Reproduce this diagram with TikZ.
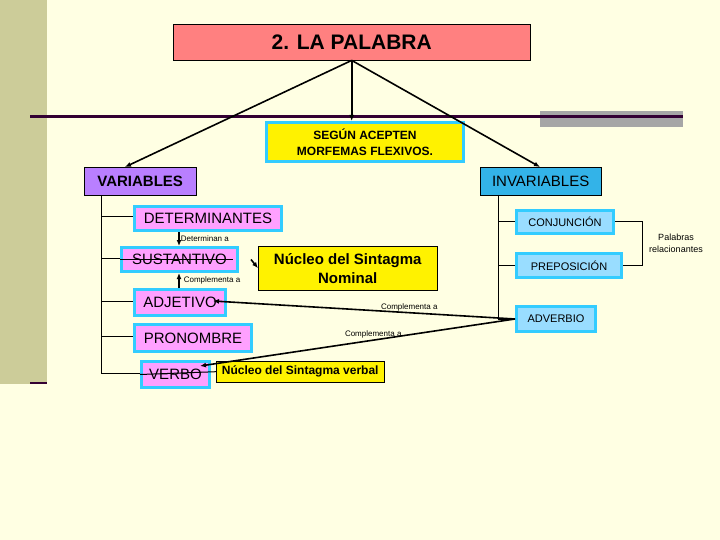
\documentclass[tikz,border=0pt]{standalone}
\usepackage{fontspec}
\setmainfont{Liberation Sans}
\usetikzlibrary{positioning,arrows.meta}
\definecolor{crema}{HTML}{FFFFE3}
\definecolor{oliva}{HTML}{CCCC99}
\definecolor{rosa}{HTML}{FF8080}
\definecolor{lila}{HTML}{B97FFF}
\definecolor{celeste}{HTML}{33B3E8}
\definecolor{claro}{HTML}{99DDFF}
\definecolor{magenta}{HTML}{FFA0FF}
\definecolor{borde}{HTML}{33CCFF}
\definecolor{barra}{HTML}{330033}
\tikzset{
  caja/.style={draw=borde, line width=3pt, fill=magenta, inner sep=0pt, anchor=north west},
  cajader/.style={draw=borde, line width=3pt, fill=claro, inner sep=0pt, anchor=north west},
  nucleo/.style={draw=black, thin, fill=yellow, inner sep=0pt, anchor=north west, align=center, font=\bfseries},
  flecha/.style={-{Latex[length=6pt,width=5pt]}, line width=1.6pt},
  etiqueta/.style={font=\fontsize{8}{9}\selectfont, inner sep=1pt},
  rama/.style={line width=1pt}
}
\begin{document}
\begin{tikzpicture}[x=1pt, y=-1pt]
  % --- fondo ---
  \fill[crema] (0,0) rectangle (720,540);
  \useasboundingbox (0,0) rectangle (720,540);
  \fill[oliva] (0,0) rectangle (47,384);
  \draw[barra, line width=2pt] (30,383) -- (47,383);
  \fill[gray!70] (540,111) rectangle (683,127);
  \draw[barra, line width=3pt] (30,117) -- (683,117);

  % --- nodos principales ---
  \node[draw=black, thin, fill=rosa, minimum width=357pt, minimum height=36pt, anchor=north west,
        font=\bfseries\fontsize{21}{24}\selectfont] (palabra) at (173,24) {2. LA PALABRA};
  \node[draw=borde, line width=3pt, fill=yellow, minimum width=197pt, minimum height=39pt, anchor=north west,
        align=center, font=\bfseries\fontsize{12}{16}\selectfont] (segun) at (265,121) {SEGÚN ACEPTEN\\MORFEMAS FLEXIVOS.};
  \node[draw=black, thin, fill=lila, minimum width=112pt, minimum height=28pt, anchor=north west,
        font=\bfseries\fontsize{15}{18}\selectfont] (var) at (84,167) {VARIABLES};
  \node[draw=black, thin, fill=celeste, minimum width=121pt, minimum height=28pt, anchor=north west,
        font=\fontsize{15}{18}\selectfont] (invar) at (480,167) {INVARIABLES};

  \draw[flecha] (palabra.south) -- (125,167);
  \draw[flecha] (palabra.south) -- (palabra.south |- segun.north);
  \draw[flecha] (palabra.south) -- (540,167);

  % --- variables ---
  \begin{scope}[font=\fontsize{15}{18}\selectfont]
    \node[caja, minimum width=147pt, minimum height=24pt] (det) at (133,205) {DETERMINANTES};
    \node[caja, minimum width=116pt, minimum height=24pt] (sust) at (120,246) {SUSTANTIVO};
    \node[caja, minimum width=91pt, minimum height=26pt] (adj) at (133,288) {ADJETIVO};
    \node[caja, minimum width=117pt, minimum height=27pt] (pron) at (133,323) {PRONOMBRE};
    \node[caja, minimum width=68pt, minimum height=26pt] (verbo) at (140,360) {VERBO};
  \end{scope}
  \node[nucleo, minimum width=179pt, minimum height=44pt, font=\bfseries\fontsize{15}{19}\selectfont]
    (nsn) at (258,246) {Núcleo del Sintagma\\Nominal};
  \node[nucleo, minimum width=168pt, minimum height=21pt, font=\bfseries\fontsize{12}{14}\selectfont]
    (nsv) at (216,361) {Núcleo del Sintagma verbal};

  \draw[rama] (101,195) -- (101,373);
  \foreach \n/\y in {det/217, sust/258, adj/301, pron/336, verbo/373}
    \draw[rama] (101,\y) -- (\n.west |- 0,\y);
  \draw[rama] (sust.west) -- ++(113,0);
  \draw[rama] (verbo.west) -- (nsv.west);
  \draw[flecha] (sust.east) ++(12,0) -- (nsn.west);

  \draw[flecha] (det.south -| 179,0) -- node[etiqueta, right] {Determinan a} (sust.north -| 179,0);
  \draw[flecha] (adj.north -| 179,0) -- node[etiqueta, right, xshift=3pt] {Complementa a} (sust.south -| 179,0);

  % --- invariables ---
  \begin{scope}[font=\fontsize{11}{13}\selectfont]
    \node[cajader, minimum width=97pt, minimum height=23pt] (conj) at (515,209) {CONJUNCIÓN};
    \node[cajader, minimum width=105pt, minimum height=24pt] (prep) at (515,252) {PREPOSICIÓN};
    \node[cajader, minimum width=79pt, minimum height=25pt] (adv) at (515,305) {ADVERBIO};
  \end{scope}
  \draw[rama] (498,195) -- (498,317);
  \foreach \n in {conj, prep, adv}
    \draw[rama] (498,0 |- \n.west) -- (\n.west);
  \draw[rama] (conj.east) -- (642,0 |- conj.east) -- (642,0 |- prep.east) -- (prep.east);
  \node[etiqueta, align=center, font=\fontsize{9}{12}\selectfont] (rel) at (676,243) {Palabras\\relacionantes};

  \draw[flecha] (adv.west) -- node[etiqueta, above, pos=0.35] {Complementa a} (213,301);
  \draw[flecha] (adv.west) -- node[etiqueta, above, pos=0.45] {Complementa a} (200,366);
\end{tikzpicture}
\end{document}
